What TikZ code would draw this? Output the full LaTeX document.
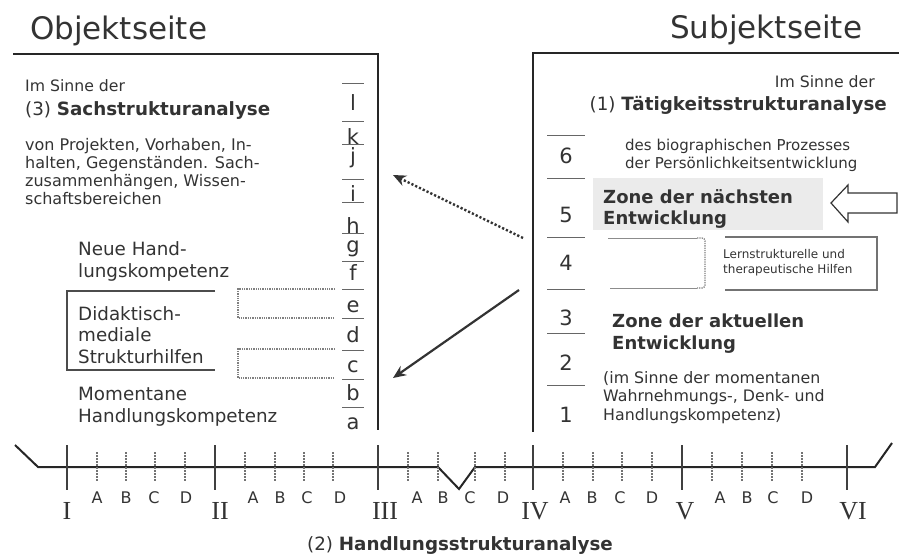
\documentclass[tikz,border=0pt]{standalone}
\usepackage{fontspec}
\setmainfont{DejaVu Sans}
\newfontfamily\romanfont{Liberation Serif}
\usetikzlibrary{arrows.meta,positioning}

\begin{document}
\begin{tikzpicture}[
  x=1pt, y=-1pt,
  >=Stealth,
  every node/.style={text=black!80, inner sep=0pt},
  heading/.style={anchor=base west, font=\fontsize{31}{31}\selectfont},
  smalltext/.style={font=\fontsize{15.7}{18}\selectfont},
  bodytext/.style={anchor=north west, align=left, font=\fontsize{16}{18}\selectfont},
  lbltext/.style={anchor=north west, align=left, font=\fontsize{18.3}{21.5}\selectfont},
  zonetext/.style={anchor=north west, align=left, font=\fontsize{18}{22}\selectfont\bfseries},
  glyph/.style={anchor=base, font=\fontsize{21}{21}\selectfont},
  tinytext/.style={anchor=north west, align=left, font=\fontsize{12}{15}\selectfont},
  frameline/.style={draw=black!85, line width=2pt},
  bracket/.style={draw=black!70, line width=1.4pt},
  ruleline/.style={draw=black!60, line width=1pt},
  dotline/.style={draw=black!50, line width=1.3pt, densely dotted},
  axis/.style={draw=black!85, line width=2pt},
  bigtick/.style={draw=black!75, line width=1.3pt},
  subtick/.style={draw=black!55, line width=1.5pt, dash pattern=on 1.5pt off 1.5pt},
  zone/.style={fill=black!8},
  hint/.style={->, line width=2.2pt, black!80, >={Stealth[length=13pt,width=11pt]}}
]
\useasboundingbox (0,0) rectangle (899,554);

% headings
\node[heading] (objekt) at (30,39) {Objektseite};
\node[heading] (subjekt) at (670,38) {Subjektseite};

% frames
\draw[frameline] (13,54) -- (378,54) -- (378,430);
\draw[frameline] (899,53) -- (533,53) -- (533,432);

% Objektseite
\node[smalltext, anchor=base west] (objsinne) at (25,91) {Im Sinne der};
\node[lbltext, anchor=base west] (objtitle) at (25,115) {(3) \textbf{Sachstrukturanalyse}};
\node[bodytext] (objtext) at (25,137.8) {von Projekten, Vorhaben, In-\\halten, Gegenständen. Sach-\\zusammenhängen, Wissen-\\schaftsbereichen};
\node[lbltext, font=\fontsize{18.3}{22}\selectfont] (neu) at (78,241.1) {Neue Hand-\\lungskompetenz};
\node[lbltext] (didakt) at (78,306.1) {Didaktisch-\\mediale\\Strukturhilfen};
\node[lbltext, font=\fontsize{18.3}{22}\selectfont] (moment) at (78,387.1) {Momentane\\Handlungskompetenz};
\draw[bracket] (215,291) -- (67,291) -- (67,370) -- (215,370);
\draw[dotline] (335,289) -- (238,289) -- (238,318) -- (335,318);
\draw[dotline] (335,349) -- (238,349) -- (238,378) -- (335,378);

% letters a to l
\foreach \l/\y in {l/110, k/144, j/163, i/201, h/233, g/252, f/280, e/312, d/342, c/372, b/400, a/429}
  \node[glyph] (let-\l) at (353,\y) {\l};
\foreach \y in {83, 121, 144, 179, 202, 233, 261, 289, 318, 350, 379, 407}
  \draw[ruleline] (342,\y) -- (364,\y);

% Subjektseite
\node[smalltext, anchor=base east] (subjsinne) at (875,87) {Im Sinne der};
\node[lbltext, anchor=base east] (subjtitle) at (887,110) {(1) \textbf{Tätigkeitsstrukturanalyse}};
\node[bodytext, font=\fontsize{15}{18}\selectfont] (biogr) at (625,138.6) {des biographischen Prozesses\\der Persönlichkeitsentwicklung};
\fill[zone] (593,178) rectangle (823,230);
\node[zonetext, font=\fontsize{18}{21}\selectfont\bfseries] (naechste) at (603,189.3) {Zone der nächsten\\Entwicklung};
\draw[black!80, line width=1.2pt, fill=white]
  (831,203) -- (848,185) -- (848,193) -- (897,193) -- (897,213) -- (848,213) -- (848,222) -- cycle;
\draw[black!45, line width=1pt] (697,238) -- (608,238);
\draw[black!45, line width=1pt] (697,288) -- (610,288);
\draw[dotline, rounded corners=3pt] (697,238) -- (705,238) -- (705,288) -- (697,288);
\draw[bracket, black!55, line width=1.2pt] (725,237) -- (877,237) -- (877,290) -- (725,290);
\node[tinytext] (hilfen) at (723,248.9) {Lernstrukturelle und\\therapeutische Hilfen};
\node[zonetext] (aktuell) at (612,313.3) {Zone der aktuellen\\Entwicklung};
\node[bodytext, font=\fontsize{15.8}{18.5}\selectfont] (momentan) at (603,371) {(im Sinne der momentanen\\Wahrnehmungs-, Denk- und\\Handlungskompetenz)};

% digits 1 to 6
\foreach \n/\y in {6/163, 5/222, 4/270, 3/325, 2/370, 1/422}
  \node[glyph] (num-\n) at (566,\y) {\n};
\foreach \y in {135, 178, 237, 289, 333, 385}
  \draw[ruleline] (547,\y) -- (585,\y);

% arrows between the sides
\coordinate (dotfrom) at (523,238);
\coordinate (dotto) at (393,175);
\coordinate (solfrom) at (519,290);
\coordinate (solto) at (393,378);
\draw[hint, dotted, line width=2.4pt] (dotfrom) -- (dotto);
\draw[hint] (solfrom) -- (solto);

% Handlungsstrukturanalyse
\draw[axis] (15,445) -- (38,467) -- (438,467) -- (459,489) -- (475,467) -- (875,467) -- (892,443);
\foreach \x/\lx/\r in {67/67/I, 215/220/II, 378/385/III, 533/535/IV, 682/685/V, 847/853/VI} {
  \draw[bigtick] (\x,445) -- (\x,490);
  \node[font=\romanfont\fontsize{26}{26}\selectfont, anchor=base] (rom-\r) at (\lx,519) {\r};
}
\foreach \x/\lx/\c in {97/97/A, 126/126/B, 155/154/C, 185/186/D,
                       245/253/A, 275/280/B, 304/307/C, 333/340/D,
                       408/417/A, 438/443/B, 475/470/C, 505/503/D,
                       563/565/A, 593/592/B, 622/620/C, 652/652/D,
                       712/720/A, 742/747/B, 772/773/C, 802/807/D} {
  \draw[subtick] (\x,452) -- (\x,482);
  \node[font=\fontsize{16}{16}\selectfont, anchor=base] at (\lx,503) {\c};
}
\node[lbltext, anchor=base] (handlung) at (460,550) {(2) \textbf{Handlungsstrukturanalyse}};
\end{tikzpicture}
\end{document}
